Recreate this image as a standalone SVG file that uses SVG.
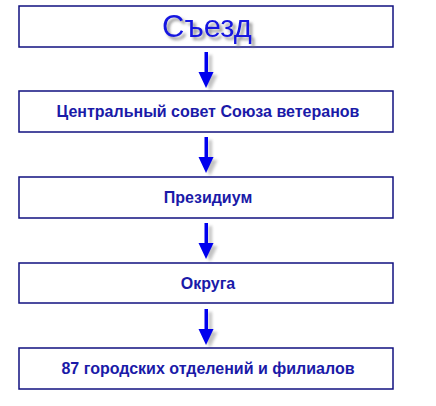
<svg xmlns="http://www.w3.org/2000/svg" width="436" height="406" viewBox="0 0 436 406">
<style>
.box{fill:#fff;stroke:#101080;stroke-width:1.5}
.lbl{font-family:"Liberation Sans",Arial,sans-serif;font-weight:bold;font-size:16px;fill:#1a1aa8;text-anchor:middle}
.title{font-family:"Liberation Sans",Arial,sans-serif;font-size:31px;fill:#1818e0;text-anchor:middle}
.arr{fill:#0000ee}
.sh{fill:#999;opacity:0.6}
</style>
<defs>
<filter id="blur" x="-20%" y="-20%" width="140%" height="140%"><feGaussianBlur stdDeviation="1.6"/></filter>
<filter id="ds" x="-20%" y="-30%" width="140%" height="170%">
<feGaussianBlur in="SourceAlpha" stdDeviation="1.6"/>
<feOffset dx="3" dy="3" result="b"/>
<feFlood flood-color="#777" flood-opacity="0.8"/>
<feComposite in2="b" operator="in" result="s"/>
<feMerge><feMergeNode in="s"/><feMergeNode in="SourceGraphic"/></feMerge>
</filter>
<g id="arrowShape"><rect x="-1.5" y="0" width="3.5" height="21"/><polygon points="-7.5,20 7.5,20 0,36"/></g>
</defs>
<rect width="436" height="406" fill="#fff"/>
<g id="connectors">
<g filter="url(#blur)" class="sh">
<use href="#arrowShape" x="210" y="55"/>
<use href="#arrowShape" x="210" y="140"/>
<use href="#arrowShape" x="210" y="226"/>
<use href="#arrowShape" x="210" y="312"/>
</g>
<g class="arr">
<use href="#arrowShape" x="206" y="52"/>
<use href="#arrowShape" x="206" y="137"/>
<use href="#arrowShape" x="206" y="223"/>
<use href="#arrowShape" x="206" y="309"/>
</g>
</g>
<g id="n1">
<rect class="box" x="19" y="6" width="374" height="41"/>
<text class="title" x="207" y="37" filter="url(#ds)">Съезд</text>
</g>
<g id="n2">
<rect class="box" x="19" y="91" width="374" height="41"/>
<text class="lbl" x="208" y="117">Центральный совет Союза ветеранов</text>
</g>
<g id="n3">
<rect class="box" x="19" y="177" width="374" height="41"/>
<text class="lbl" x="208" y="203">Президиум</text>
</g>
<g id="n4">
<rect class="box" x="19" y="263" width="374" height="40"/>
<text class="lbl" x="208" y="289">Округа</text>
</g>
<g id="n5">
<rect class="box" x="19" y="348" width="374" height="41"/>
<text class="lbl" x="208" y="374">87 городских отделений и филиалов</text>
</g>
</svg>
